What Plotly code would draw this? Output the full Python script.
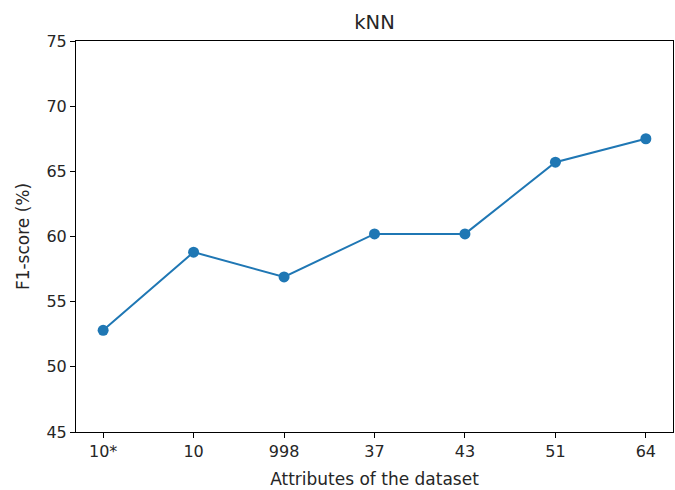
import plotly.graph_objects as go

categories = ["10*", "10", "998", "37", "43", "51", "64"]
f1_scores = [52.8, 58.8, 56.9, 60.2, 60.2, 65.7, 67.5]
y_ticks = [45, 50, 55, 60, 65, 70, 75]

idx = list(range(len(categories)))

fig = go.Figure(go.Scatter(
    x=idx, y=f1_scores, mode="lines+markers",
    line=dict(color="#1f77b4", width=2),
    marker=dict(color="#1f77b4", size=11),
))

font = "DejaVu Sans"
txt = "#262626"
axis_common = dict(showline=True, linecolor="black", linewidth=1, mirror=True,
                   ticks="outside", ticklen=5, tickcolor="black", showgrid=False,
                   zeroline=False, tickfont=dict(family=font, size=16, color=txt))

W, H = 675, 490
fig.update_layout(
    width=W, height=H,
    margin=dict(l=76, r=2, t=41, b=58),
    paper_bgcolor="white", plot_bgcolor="white",
    showlegend=False,
    title=dict(text="kNN", x=0.5, xref="paper", xanchor="center",
               y=1 - 22 / H, yanchor="middle",
               font=dict(family=font, size=19.5, color=txt)),
    xaxis=dict(range=[-0.3, 6.3], tickvals=idx, ticktext=categories,
               title=dict(text="Attributes of the dataset", standoff=12,
                          font=dict(family=font, size=17, color=txt)),
               **axis_common),
    yaxis=dict(range=[45, 75], tickvals=y_ticks,
               title=dict(text="F1-score (%)", standoff=12,
                          font=dict(family=font, size=17, color=txt)),
               **axis_common),
)

# remove the browser's default 8px body margin so the figure fills the window
fig.write_html("out.html",
               config={"displayModeBar": False},
               post_script="document.body.style.margin='0';document.body.style.overflow='hidden';")
